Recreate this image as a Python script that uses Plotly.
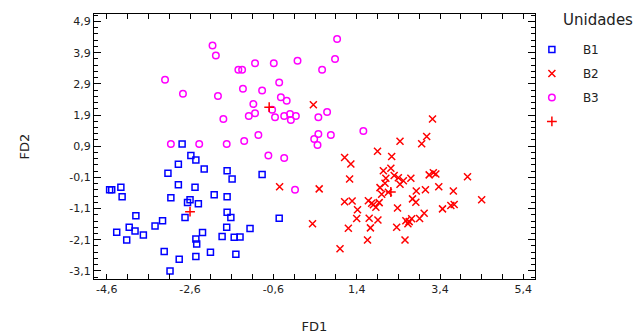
import plotly.graph_objects as go

# ---- data ----
b1_x = [-2.79,-2.58,-2.46,-2.88,-2.26,-3.13,-1.71,-1.59,-0.87,-2.88,-2.48,-4.53,-4.48,-4.26,-4.23,-3.06,-2.02,-1.71,-2.60,-2.66,-2.40,-1.71,-1.62,-2.72,-3.90,-3.26,-0.46,-3.44,-4.06,-3.92,-4.36,-3.72,-1.72,-1.16,-2.30,-1.83,-1.54,-1.40,-4.12,-2.46,-2.44,-3.22,-2.11,-1.50,-2.46,-2.86,-3.08]
b1_y = [0.97,0.60,0.46,0.32,0.17,0.03,0.11,-0.15,-0.01,-0.34,-0.42,-0.50,-0.50,-0.42,-0.72,-0.75,-0.66,-0.72,-0.82,-0.91,-0.95,-1.22,-1.39,-1.39,-1.33,-1.49,-1.41,-1.66,-1.70,-1.82,-1.86,-1.95,-1.70,-1.74,-1.87,-2.00,-2.02,-2.01,-2.11,-2.08,-2.24,-2.48,-2.50,-2.57,-2.64,-2.73,-3.10]

b2_x = [0.36,3.22,3.08,2.44,2.96,1.90,2.24,1.11,1.26,2.04,2.22,2.10,2.30,2.40,2.52,2.70,2.44,2.08,1.96,3.14,3.24,3.30,4.06,1.23,2.83,3.05,3.37,3.72,2.00,2.16,1.11,1.29,1.68,1.94,1.80,1.86,1.76,2.74,2.82,4.40,1.42,2.38,3.46,3.66,3.74,1.40,1.70,1.91,3.02,2.91,2.72,2.66,2.58,2.63,1.20,1.73,2.36,1.66,2.56,1.00,-0.45,0.50,0.34]
b2_y = [2.23,1.77,1.21,1.06,0.98,0.74,0.57,0.54,0.33,0.11,0.19,-0.13,-0.04,-0.11,-0.21,-0.13,-0.32,-0.29,-0.43,-0.02,0.05,0.01,-0.08,-0.15,-0.54,-0.50,-0.40,-0.54,-0.64,-0.58,-0.88,-0.86,-0.85,-0.91,-0.98,-1.06,-0.93,-0.79,-0.90,-0.82,-1.14,-1.08,-1.11,-1.00,-0.97,-1.42,-1.41,-1.47,-1.25,-1.42,-1.43,-1.52,-1.49,-1.59,-1.73,-1.72,-1.70,-2.11,-2.11,-2.39,-0.40,-0.47,-1.59]

b3_x = [-2.06,0.93,-1.98,-1.44,-1.35,-1.04,-0.59,-0.02,0.88,0.57,-0.46,-3.20,-2.77,-1.33,-0.87,-1.93,-0.42,-0.28,-1.08,-0.63,-1.04,-1.19,-0.56,-0.34,-0.20,-0.06,-0.18,0.48,0.69,-1.80,-3.06,-2.38,-1.72,-1.30,-0.96,0.38,0.48,0.46,0.78,1.56,-0.72,-0.34,-0.08]
b3_y = [4.13,4.34,3.81,3.35,3.35,3.56,3.56,3.64,3.70,3.35,2.94,3.03,2.58,2.74,2.69,2.51,2.47,2.36,2.25,2.07,1.96,1.87,1.83,1.87,1.93,1.87,1.74,1.83,2.00,1.77,0.97,0.97,0.97,1.07,1.26,1.13,1.29,0.94,1.26,1.39,0.60,0.52,-0.50]

cent_x = [-0.70, -2.60, 2.22]
cent_y = [2.15, -1.20, -0.57]

x_tickvals = [-4.6, -2.6, -0.6, 1.4, 3.4, 5.4]
x_ticktext = ["-4,6", "-2,6", "-0,6", "1,4", "3,4", "5,4"]
y_tickvals = [-3.1, -2.1, -1.1, -0.1, 0.9, 1.9, 2.9, 3.9, 4.9]
y_ticktext = ["-3,1", "-2,1", "-1,1", "-0,1", "0,9", "1,9", "2,9", "3,9", "4,9"]

FONT = "DejaVu Sans"

fig = go.Figure()
fig.add_trace(go.Scatter(x=b1_x, y=b1_y, mode="markers", name="B1", legendgroup="g1",
                         marker=dict(symbol="square-open", size=6, color="#0000FF",
                                     line=dict(width=1.5, color="#0000FF"))))
fig.add_trace(go.Scatter(x=b2_x, y=b2_y, mode="markers", name="B2", legendgroup="g2",
                         marker=dict(symbol="x-thin-open", size=7, color="#FF0000",
                                     line=dict(width=1.5, color="#FF0000"))))
fig.add_trace(go.Scatter(x=b3_x, y=b3_y, mode="markers", name="B3", legendgroup="g3",
                         marker=dict(symbol="circle-open", size=6.5, color="#FF00FF",
                                     line=dict(width=1.5, color="#FF00FF"))))
fig.add_trace(go.Scatter(x=cent_x, y=cent_y, mode="markers", name=" ", legendgroup="g4",
                         marker=dict(symbol="cross-thin-open", size=7, color="#FF0000",
                                     line=dict(width=1.5, color="#FF0000"))))

axis_common = dict(showline=True, linecolor="black", linewidth=1, mirror="ticks",
                   showgrid=False, zeroline=False, ticks="inside", tickcolor="black",
                   tickfont=dict(family=FONT, size=11, color="#222"))

fig.update_xaxes(range=[-4.905, 5.68], tickmode="array", tickvals=x_tickvals,
                 ticktext=x_ticktext, ticklen=5,
                 minor=dict(tickmode="linear", tick0=-4.6, dtick=0.5, ticks="inside",
                            ticklen=5, tickcolor="black"),
                 title=dict(text="FD1", font=dict(family=FONT, size=13, color="#222"),
                            standoff=26),
                 **axis_common)
fig.update_yaxes(range=[-3.36, 5.14], tickmode="array", tickvals=y_tickvals,
                 ticktext=y_ticktext, ticklen=7,
                 minor=dict(tickmode="linear", tick0=-3.1, dtick=0.2, ticks="inside",
                            ticklen=4, tickcolor="black"),
                 title=dict(text="FD2", font=dict(family=FONT, size=13, color="#222"),
                            standoff=36),
                 **axis_common)

fig.update_layout(
    width=634, height=335,
    margin=dict(l=94, r=99, t=14, b=56, autoexpand=False),
    plot_bgcolor="white", paper_bgcolor="white",
    separators=",.",
    legend=dict(x=0.968, y=0.921, xanchor="left", yanchor="top",
                font=dict(family=FONT, size=12, color="#222"),
                bgcolor="rgba(0,0,0,0)", itemwidth=52, tracegroupgap=5,
                traceorder="grouped"),
    annotations=[dict(text="Unidades", xref="paper", yref="paper",
                      x=1.059, y=0.977, xanchor="left", yanchor="middle",
                      showarrow=False,
                      font=dict(family=FONT, size=15, color="#222"))],
    showlegend=True,
)

fig.write_html("out.html")
